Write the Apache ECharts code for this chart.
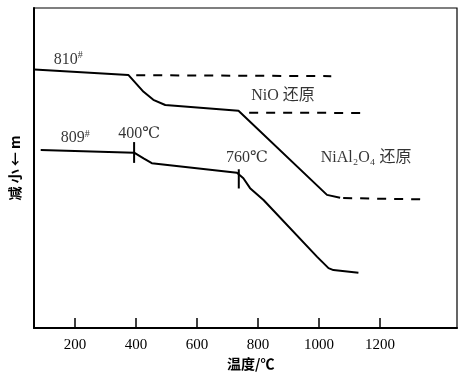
<!DOCTYPE html>
<html><head><meta charset="utf-8">
<script src="https://cdn.jsdelivr.net/npm/echarts@6/dist/echarts.min.js"></script>
<style>html,body{margin:0;padding:0;background:#fff}#c{width:459px;height:379px}</style>
</head><body><div id="c"></div>
<script>
// x: temperature (°C); y: relative mass (arbitrary units, 0-100)
const xTicks = [200, 400, 600, 800, 1000, 1200];
const curve810 = [[67,80.8],[375,79.1],[425,73.8],[457,71.3],[496,69.7],[736,67.9],[1026,41.6],[1069,40.7]];
const curve809 = [[88,55.6],[394,54.8],[425,53.0],[452,51.5],[731,48.5],[752,46.8],[774,43.7],[818,40.0],[993,22.3],[1031,18.7],[1047,18.1],[1129,17.3]];
const dashA = [[401,79.0],[1040,78.7]];
const dashNiO = [[771,67.3],[1140,67.2]];
const dashNiAl = [[1079,40.6],[1337,40.2]];
const mark400 = [[394,58.1],[394,51.6]];
const mark760 = [[737,49.6],[737,43.6]];
const labelTexts = ['810{sup|#}', '809{sup|#}', '400℃', '760℃', 'NiO 还原', 'NiAl₂O₄ 还原'];
const labelX = [178, 201, 411, 764, 882, 1154];
const labelY = [83.8, 59.4, 60.6, 53.1, 72.5, 53.3];
const xName = '温度/℃';
const yName = '减 小 ← m';

const FONT = '"Liberation Serif", "DejaVu Serif", "Noto Sans CJK SC", serif';
const chart = echarts.init(document.getElementById('c'), null, {renderer: 'canvas'});
const lineSeries = (data, dashed) => ({
  type: 'line', data, symbol: 'none', silent: true, animation: false,
  lineStyle: {color: '#000', width: 2, type: dashed ? [9, 8] : 'solid'}
});
chart.setOption({
  animation: false,
  backgroundColor: '#fff',
  grid: {left: 34, right: 2, top: 8, height: 320, show: true, borderColor: '#000', borderWidth: 1.2, backgroundColor: 'transparent'},
  xAxis: {
    type: 'value', min: 66, max: 1452,
    axisLine: {show: true, lineStyle: {color: '#000', width: 2}},
    axisTick: {show: true, inside: true, length: 10, customValues: xTicks, lineStyle: {color: '#000', width: 1.5}},
    axisLabel: {customValues: xTicks, color: '#000', fontFamily: FONT, fontSize: 15, margin: 10, formatter: v => String(v)},
    splitLine: {show: false}
  },
  yAxis: {
    type: 'value', min: 0, max: 100,
    name: yName, nameLocation: 'middle', nameRotate: 90, nameGap: 12,
    nameTextStyle: {color: '#000', fontFamily: '"Noto Sans CJK SC", sans-serif', fontSize: 14, fontWeight: 'bold'},
    axisLine: {show: true, lineStyle: {color: '#000', width: 2}},
    axisTick: {show: false}, axisLabel: {show: false}, splitLine: {show: false}
  },
  graphic: [{type: 'text', left: 227, top: 357, style: {text: xName, fill: '#000', font: 'bold 14px "Noto Sans CJK SC", sans-serif'}}],
  series: [
    lineSeries(curve810, false),
    lineSeries(curve809, false),
    lineSeries(dashA, true),
    lineSeries(dashNiO, true),
    lineSeries(dashNiAl, true),
    lineSeries(mark400, false),
    lineSeries(mark760, false),
    {
      type: 'scatter', symbolSize: 0, silent: true, animation: false,
      data: labelTexts.map((t, i) => ({value: [labelX[i], labelY[i]], label: {formatter: t}})),
      label: {show: true, position: 'inside', color: '#000', fontFamily: FONT, fontSize: 16,
        rich: {sup: {fontSize: 10, fontFamily: FONT, color: '#000', padding: [0, 0, 8, 0]}}}
    }
  ]
});
</script></body></html>
